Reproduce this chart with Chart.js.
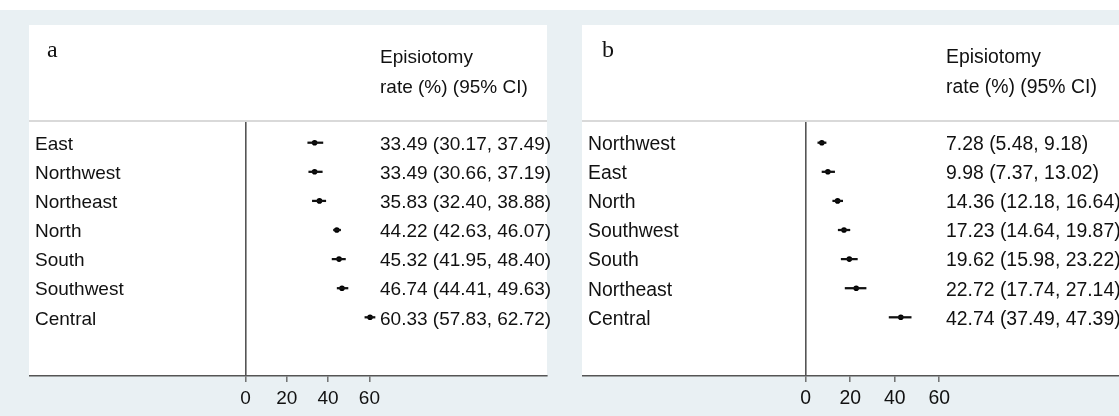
<!DOCTYPE html>
<html>
<head>
<meta charset="utf-8">
<script src="https://cdn.jsdelivr.net/npm/chart.js@4.4.1/dist/chart.umd.min.js"></script>
<style>
  html, body { margin: 0; padding: 0; background: #ffffff; width: 1119px; height: 416px; overflow: hidden; }
  #backdrop { position: absolute; left: 0; top: 10px; width: 1119px; height: 406px; background: #e9f0f3; }
  .panel { position: absolute; top: 25px; height: 391px; }
  #panelA { left: 29px; width: 545px; }
  #panelB { left: 582px; width: 537px; }
</style>
</head>
<body>
<div id="backdrop"></div>
<div class="panel" id="panelA"><canvas id="chartA"></canvas></div>
<div class="panel" id="panelB"><canvas id="chartB"></canvas></div>
<script>
// Panel a: episiotomy rate by region, first group
const regionsA = ['East', 'Northwest', 'Northeast', 'North', 'South', 'Southwest', 'Central'];
const rateA    = [33.49, 33.49, 35.83, 44.22, 45.32, 46.74, 60.33];
const lowerA   = [30.17, 30.66, 32.40, 42.63, 41.95, 44.41, 57.83];
const upperA   = [37.49, 37.19, 38.88, 46.07, 48.40, 49.63, 62.72];

// Panel b: episiotomy rate by region, second group
const regionsB = ['Northwest', 'East', 'North', 'Southwest', 'South', 'Northeast', 'Central'];
const rateB    = [7.28, 9.98, 14.36, 17.23, 19.62, 22.72, 42.74];
const lowerB   = [5.48, 7.37, 12.18, 14.64, 15.98, 17.74, 37.49];
const upperB   = [9.18, 13.02, 16.64, 19.87, 23.22, 27.14, 47.39];

const xTickValues = [0, 20, 40, 60];
const headerLines = ['Episiotomy', 'rate (%) (95% CI)'];
const panelLetters = ['a', 'b'];

const SANS = '"Liberation Sans", Arial, sans-serif';
const SERIF = '"Liberation Serif", "Times New Roman", serif';
const INK = '#111111';

function ciText(rate, lo, hi) {
  return rate.map((r, i) => `${r.toFixed(2)} (${lo[i].toFixed(2)}, ${hi[i].toFixed(2)})`);
}

// White panel body above the axis line, plus the header text and rule
const panelDecor = {
  id: 'panelDecor',
  beforeDraw(chart) {
    const { ctx, chartArea } = chart;
    ctx.save();
    ctx.fillStyle = '#ffffff';
    ctx.fillRect(0, 0, chartArea.right, chartArea.bottom);
    ctx.restore();
  },
  afterDraw(chart, args, opts) {
    const { ctx, chartArea } = chart;
    ctx.save();
    // header rule
    ctx.strokeStyle = '#d9d9d9';
    ctx.lineWidth = 2;
    ctx.beginPath();
    ctx.moveTo(0, chartArea.top);
    ctx.lineTo(chartArea.right, chartArea.top);
    ctx.stroke();
    // panel letter
    ctx.fillStyle = INK;
    ctx.font = '24px ' + SERIF;
    ctx.textAlign = 'left';
    ctx.textBaseline = 'alphabetic';
    ctx.fillText(opts.letter, opts.letterX, 32);
    // column heading
    ctx.font = opts.fontSize + 'px ' + SANS;
    ctx.textBaseline = 'middle';
    headerLines.forEach((line, i) => ctx.fillText(line, opts.headerX, 33 + i * 30));
    ctx.restore();
  }
};

function makePanel(canvasId, letter, letterX, regions, rate, lower, upper, xMin, xMax, valueX, rightPad, fontSize) {
  const valueLabels = ciText(rate, lower, upper);
  const rows = regions.map((_, i) => i);
  const yMin = -0.746, yMax = 8.017;
  // text rows sit a touch lower than the marks
  const textShift = 0.07;

  const zeroWidth = (scale) => {
    scale.width = 0;
    scale.paddingTop = 0;
    scale.paddingBottom = 0;
  };

  const labelAxis = (padding, texts) => ({
    type: 'linear',
    position: 'left',
    reverse: true,
    offset: false,
    min: yMin - textShift,
    max: yMax - textShift,
    afterBuildTicks: (scale) => { scale.ticks = rows.map(v => ({ value: v })); },
    afterFit: zeroWidth,
    ticks: {
      mirror: true,
      crossAlign: 'near',
      padding,
      autoSkip: false,
      color: INK,
      font: { family: SANS, size: fontSize },
      callback: (v) => texts[v]
    },
    grid: { display: false, drawTicks: false },
    border: { display: false }
  });

  return new Chart(document.getElementById(canvasId), {
    type: 'scatter',
    data: {
      datasets: [
        {
          type: 'bar',
          indexAxis: 'y',
          data: lower.map((lo, i) => ({ x: [lo, upper[i]], y: i })),
          backgroundColor: INK,
          borderWidth: 0,
          barThickness: 1.6,
          xAxisID: 'x',
          yAxisID: 'y'
        },
        {
          type: 'scatter',
          data: rate.map((r, i) => ({ x: r, y: i })),
          pointStyle: 'circle',
          pointRadius: 2.8,
          pointBackgroundColor: '#000000',
          pointBorderWidth: 0,
          xAxisID: 'x',
          yAxisID: 'y'
        }
      ]
    },
    options: {
      responsive: true,
      maintainAspectRatio: false,
      animation: false,
      events: [],
      layout: { autoPadding: false, padding: { top: 96, left: 0, right: rightPad, bottom: 0 } },
      plugins: {
        legend: { display: false },
        tooltip: { enabled: false },
        panelDecor: { letter, letterX, headerX: valueX, fontSize }
      },
      scales: {
        x: {
          type: 'linear',
          position: 'bottom',
          min: xMin,
          max: xMax,
          afterBuildTicks: (scale) => { scale.ticks = xTickValues.map(v => ({ value: v })); },
          afterFit: (scale) => { scale.height = 40; scale.paddingLeft = 0; scale.paddingRight = 0; },
          ticks: {
            autoSkip: false,
            maxRotation: 0,
            color: INK,
            padding: 5,
            font: { family: SANS, size: fontSize }
          },
          grid: {
            drawOnChartArea: true,
            color: (c) => (c.tick && c.tick.value === 0 ? '#555555' : 'rgba(0,0,0,0)'),
            lineWidth: 1.6,
            tickColor: '#666666',
            tickWidth: 1.4,
            tickLength: 6
          },
          border: { display: true, color: '#555555', width: 1.5 }
        },
        y: {
          type: 'linear',
          display: false,
          reverse: true,
          offset: false,
          min: yMin,
          max: yMax
        },
        names: labelAxis(6, regions),
        values: labelAxis(valueX, valueLabels)
      }
    },
    plugins: [panelDecor]
  });
}

makePanel('chartA', panelLetters[0], 18, regionsA, rateA, lowerA, upperA, -104.8, 146.0, 351, 27, 19);
makePanel('chartB', panelLetters[1], 20, regionsB, rateB, lowerB, upperB, -100.4, 140.7, 364, 0, 19.4);
</script>
</body>
</html>
